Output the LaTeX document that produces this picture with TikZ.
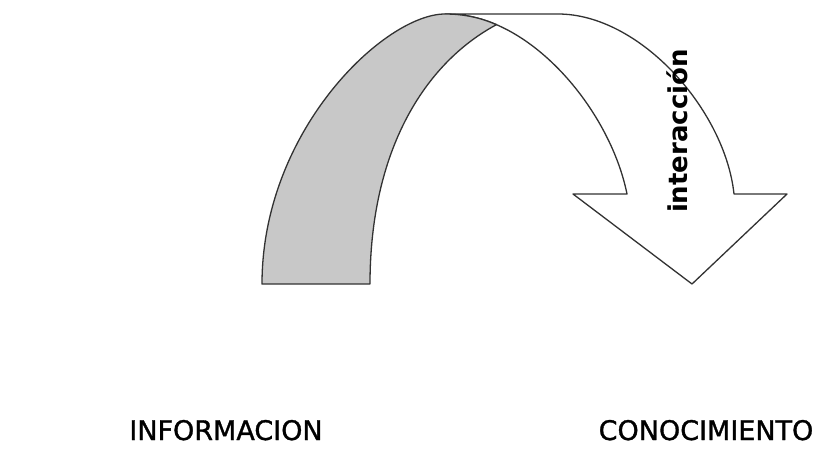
\documentclass[tikz,border=0pt]{standalone}
\usepackage{fontspec}
\setmainfont{DejaVu Sans}
\newfontfamily\lblfont[FakeBold=1.2]{DejaVu Sans}
\definecolor{bandgray}{RGB}{200,200,200}
\definecolor{edgegray}{RGB}{50,50,50}
\begin{document}
\begin{tikzpicture}[x=1pt,y=-1pt,line join=round,
  edge/.style={draw=edgegray,line width=1.3pt},
  label/.style={font=\lblfont\fontsize{27}{30}\selectfont,text=black,inner sep=0pt},
  vlabel/.style={font=\bfseries\fontsize{26}{28}\selectfont,text=black,inner sep=0pt,rotate=90}]
\useasboundingbox[fill=white] (0,0) rectangle (832,461);
% back (white) band with arrow head
\path[edge,fill=white] (445,14) -- (558,14)
  .. controls (640,14) and (725,110) .. (734,194)
  -- (787,194) -- (692,284) -- (573,194) -- (627,194)
  .. controls (613.4,126.6) and (559.48,51.88) .. (496.47,24.65)
  .. controls (480.72,17.84) and (464.4,14) .. (445,14) -- cycle;
% front (shaded) band
\path[edge,fill=bandgray] (262,284) -- (370,284)
  .. controls (370,150) and (425,63) .. (496.47,24.65)
  .. controls (480.72,17.84) and (464.4,14) .. (445,14)
  .. controls (385,14) and (262,130) .. (262,284) -- cycle;
\node[vlabel] (inter) at (677,131) {interacción};
\node[label,anchor=base] (info) at (226,440) {INFORMACION};
\node[label,anchor=base] (cono) at (706,440) {CONOCIMIENTO};
\end{tikzpicture}
\end{document}
